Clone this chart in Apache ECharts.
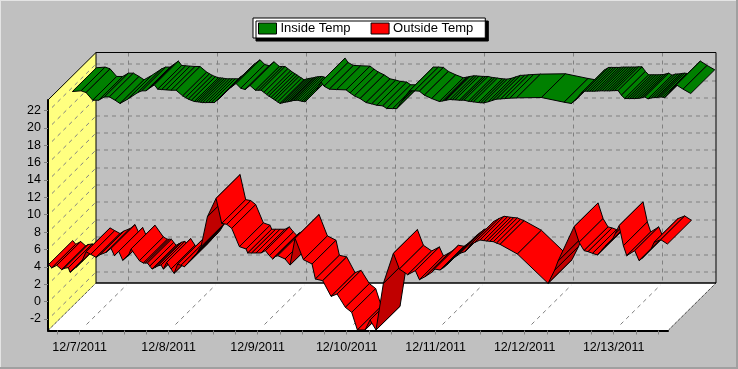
<!DOCTYPE html>
<html>
<head>
<meta charset="utf-8">
<style>html,body{margin:0;padding:0;background:#c0c0c0}#c{width:738px;height:369px}</style>
<script src="https://cdn.jsdelivr.net/npm/echarts@6/dist/echarts.min.js"></script>
</head>
<body>
<div id="c"></div>
<script>
// Hours since midnight of 12/7/2011
const dateLabels = ["12/7/2011","12/8/2011","12/9/2011","12/10/2011","12/11/2011","12/12/2011","12/13/2011"];
const dateTickHours = [0,24,48,72,96,120,144];
const minorTickHours = [-6,0,6,12,18,24,30,36,42,48,54,60,66,72,78,84,90,96,102,108,114,120,126,132,138,144,150,156];
const tempTicks = [-2,0,2,4,6,8,10,12,14,16,18,20,22];

const outsideHours = [-8.36,-7.55,-6.20,-4.85,-4.22,-3.06,-2.61,-0.99,0.54,1.71,2.97,4.40,5.48,7.10,8.45,9.35,10.52,11.60,13.12,13.84,16.09,17.17,17.7,18.25,18.9,19.51,20.3,21.03,21.93,22.56,23.46,24.63,25.44,26.43,27.3,28.23,29.2,30.20,30.9,31.55,32.1,32.72,34.43,36.77,38.29,39.64,40.99,43.06,44.86,45.31,46.38,47.55,48.90,50.07,51.15,52.05,52.68,53.40,55.37,56.72,58.07,60.32,62.65,63.55,65.53,67.78,69.40,71.64,73.35,74.88,76.95,78.29,79.91,81.89,84.59,86.21,88.45,90.52,91.60,93.13,94.93,95.64,97.17,98.1,98.97,99.9,100.77,101.7,102.57,103.91,104.6,105.26,106.61,107.96,108.9,109.76,110.6,111.55,112.4,113.35,118.03,126.30,128.10,128.99,133.31,134.66,136.00,137.08,138.3,139.60,140.6,141.58,142.6,143.56,144.5,145.44,146.61,147.51,149.67,150.84,151.64,154.16,154.88,156.68,158.48];
const outsideTemp = [4.28,3.86,4.17,3.67,3.82,3.90,3.36,3.94,4.59,5.74,5.43,5.09,5.39,5.66,6.12,5.28,5.78,4.74,5.28,6.05,4.70,4.43,4.43,4.43,4.08,3.74,3.92,4.09,4.20,3.74,4.51,3.74,3.24,4.32,4.17,4.01,4.45,4.90,5.22,5.55,5.93,6.32,9.77,11.88,9.00,8.89,8.43,6.32,6.05,5.59,5.59,5.59,5.59,5.86,5.28,4.90,5.16,5.28,4.90,4.20,7.28,4.82,4.32,2.59,2.40,0.59,0.86,-0.67,-1.25,-3.28,-3.28,-2.13,-3.28,2.09,5.55,3.74,3.09,3.55,2.51,2.86,3.36,3.74,3.63,3.9,4.20,4.6,4.97,5.26,5.55,5.74,6.1,6.51,6.82,7.08,7.02,6.97,6.93,6.89,6.73,6.58,5.47,2.09,3.63,4.66,8.62,6.82,5.86,5.74,5.55,5.36,5.84,6.32,6.7,7.08,7.9,8.74,6.43,5.28,5.86,4.70,4.97,6.12,6.82,7.12,6.62];

const insideHours = [-8.45,-6.11,-4.76,-2.97,-1.35,0.18,1.53,3.06,4.40,6.47,9.17,10.25,11.42,12.49,13.66,14.56,15.64,16.81,18.16,19.51,21.30,22.07,22.83,23.64,24.45,25.0,25.53,26.1,26.70,27.5,28.23,29.0,29.84,30.6,31.37,32.1,32.81,34.25,35.69,36.95,38.11,39.46,40.90,41.7,42.43,43.2,43.96,44.5,45.13,45.7,46.20,46.9,47.55,48.2,48.90,49.5,50.07,50.6,51.15,51.7,52.32,52.9,53.40,53.85,54.29,57.44,58.61,59.42,60.86,62.83,65.35,66.43,67.60,69.13,70.74,72.27,73.62,75.24,76.32,77.94,79.01,80.36,81.53,82.43,83.78,85.13,86.47,88.45,90.52,91.42,91.9,92.32,93.40,94.05,94.74,95.92,96.5,97.17,98.34,99.0,99.69,101.04,101.7,102.39,103.64,104.72,105.89,107.06,108.14,109.49,111.30,118.03,124.14,126.12,127.19,128.63,129.71,130.4,131.06,131.7,132.41,133.1,133.76,134.4,135.11,135.8,136.46,137.1,137.80,138.70,139.60,140.50,141.2,141.85,142.5,143.20,143.9,144.54,145.2,145.89,146.79,147.69,148.4,149.04,149.6,150.21,150.75,151.29,152.63,154.43,156.23,158.30];
const insideTemp = [21.45,21.53,21.33,20.45,20.45,20.83,20.83,20.45,20.07,20.57,21.33,21.53,21.53,21.87,22.22,21.72,21.68,21.64,21.60,21.60,20.95,20.76,20.57,20.43,20.30,20.28,20.26,20.22,20.18,20.18,20.18,20.18,20.18,20.45,20.72,21.03,21.33,21.91,22.37,21.83,21.68,22.14,21.60,21.6,21.60,21.35,21.10,20.93,20.76,20.6,20.45,20.26,20.07,20.15,20.22,20.26,20.30,20.36,20.41,20.43,20.45,20.39,20.33,20.3,20.26,21.60,22.56,22.06,21.72,21.68,21.64,21.29,20.95,20.64,20.18,20.03,19.87,19.80,19.49,19.49,19.49,20.33,21.03,21.53,21.53,21.49,21.03,20.64,20.30,20.37,20.41,20.45,20.53,20.51,20.49,20.45,20.45,20.45,20.33,20.3,20.26,20.18,20.16,20.14,20.26,20.41,20.57,20.60,20.64,20.68,20.72,20.76,20.22,20.07,20.45,21.22,21.49,21.49,21.49,21.49,21.49,21.51,21.53,21.53,21.53,21.53,21.53,21.54,21.56,21.56,21.03,20.64,20.64,20.64,20.64,20.64,20.66,20.68,20.75,20.83,20.60,20.72,20.74,20.76,20.8,20.83,20.8,20.76,21.41,22.22,21.72,21.22];

const xMin = -8.55, xMax = 158.64, yMin = -3.34, yMax = 23.21;
const depthX = 48, depthY = 47.5;

function segments(hours, temps) {
  const out = [];
  for (let i = 0; i < hours.length - 1; i++) out.push([hours[i], temps[i], hours[i+1], temps[i+1]]);
  return out;
}
function ribbon(fill, dark, z0, z1) {
  return function (params, api) {
    const a = api.coord([api.value(0), api.value(1)]);
    const b = api.coord([api.value(2), api.value(3)]);
    const ax = a[0] + depthX*z0, ay = a[1] - depthY*z0;
    const bx = b[0] + depthX*z0, by = b[1] - depthY*z0;
    const dx = depthX*(z1-z0), dy = depthY*(z1-z0);
    const cross = (bx-ax)*(-dy) - (by-ay)*dx;
    return {
      type: 'polygon',
      shape: { points: [[ax,ay],[bx,by],[bx+dx,by-dy],[ax+dx,ay-dy]] },
      style: { fill: cross > 0 ? dark : fill, stroke: '#000', lineWidth: 1, lineJoin: 'bevel' }
    };
  };
}
function walls(params, api) {
  const p0 = api.coord([xMin, yMin]), p1 = api.coord([xMax, yMax]);
  const L = p0[0], B = p0[1], R = p1[0], T = p1[1];
  const dash = { stroke: '#808080', lineWidth: 1, lineDash: [4,4], fill: null };
  const solid = w => ({ stroke: '#000', lineWidth: w, fill: null });
  const dotted = { stroke: '#000', lineWidth: 1, lineDash: [1,1], fill: null };
  const line = (x1,y1,x2,y2,style) => ({ type:'line', shape:{x1,y1,x2,y2}, style });
  const kids = [
    { type:'polygon', shape:{points:[[L,T],[L+depthX,T-depthY],[L+depthX,B-depthY],[L,B]]}, style:{fill:'#FFFF80'} },
    { type:'polygon', shape:{points:[[L,B],[R,B],[R+depthX,B-depthY],[L+depthX,B-depthY]]}, style:{fill:'#FFFFFF'} }
  ];
  tempTicks.forEach(v => {
    const y = Math.round(api.coord([xMin, v])[1]) + 0.5;
    kids.push(line(L+depthX, y-depthY, R+depthX, y-depthY, dash));
    kids.push(line(L+4, y-4, L+depthX, y-depthY, dash));
  });
  dateTickHours.forEach(v => {
    const x = Math.round(api.coord([v, yMin])[0]) + 0.5;
    kids.push(line(x+depthX, T-depthY, x+depthX, B-depthY, dash));
    kids.push(line(x+6, B-6, x+depthX-2, B-depthY+2, dash));
  });
  kids.push(line(L, T, L+depthX, T-depthY, solid(1)));
  kids.push(line(L+depthX, T-depthY, R+depthX, T-depthY, solid(1)));
  kids.push(line(L+depthX, T-depthY, L+depthX, B-depthY, solid(1)));
  kids.push(line(R+depthX, T-depthY, R+depthX, B-depthY, solid(1)));
  kids.push(line(L+depthX, B-depthY, R+depthX, B-depthY, solid(1.5)));
  kids.push(line(L, B, L+depthX, B-depthY, dotted));
  kids.push(line(R, B, R+depthX, B-depthY, dotted));
  return { type:'group', children:kids };
}

const chart = echarts.init(document.getElementById('c'), null, { renderer:'canvas', width:738, height:369 });
const font = '"Liberation Sans", Arial, sans-serif';
chart.setOption({
  animation: false,
  backgroundColor: '#C0C0C0',
  grid: { left:48, right:70, top:100, bottom:38.5, containLabel:false },
  legend: {
    data: [{name:'Inside Temp',icon:'rect'},{name:'Outside Temp',icon:'rect'}],
    left: 253, top: 18, orient:'horizontal',
    padding: [4,12,3,5], itemWidth:18, itemHeight:11, itemGap:20,
    backgroundColor:'#fff', borderColor:'#000', borderWidth:1,
    shadowColor:'#000', shadowOffsetX:3, shadowOffsetY:3, shadowBlur:0,
    textStyle:{ fontFamily:font, fontSize:13, color:'#000', padding:[0,0,0,-1] },
    itemStyle:{ borderColor:'#000', borderWidth:1 },
    selectedMode:false
  },
  xAxis: {
    type:'value', min:xMin, max:xMax, splitLine:{show:false},
    axisLine:{ onZero:false, lineStyle:{color:'#000', width:2} },
    axisTick:{ length:4, lineStyle:{color:'#808080'}, customValues:minorTickHours },
    axisLabel:{ customValues:dateTickHours, margin:11, fontFamily:font, fontSize:12.5, color:'#000',
      formatter: v => dateLabels[dateTickHours.indexOf(v)] || '' }
  },
  yAxis: {
    type:'value', min:yMin, max:yMax, splitLine:{show:false},
    axisLine:{ onZero:false, lineStyle:{color:'#000', width:2} },
    axisTick:{ length:4, lineStyle:{color:'#808080'}, customValues:tempTicks },
    axisLabel:{ customValues:tempTicks, margin:7, fontFamily:font, fontSize:12.5, color:'#000' }
  },
  graphic: [
    { type:'rect', silent:true, z:100, shape:{x:0,y:0,width:738,height:1}, style:{fill:'#e4e4e4'} },
    { type:'rect', silent:true, z:100, shape:{x:0,y:0,width:1,height:369}, style:{fill:'#e4e4e4'} },
    { type:'rect', silent:true, z:100, shape:{x:0,y:367,width:738,height:2}, style:{fill:'#a0a0a0'} },
    { type:'rect', silent:true, z:100, shape:{x:736,y:0,width:2,height:369}, style:{fill:'#a0a0a0'} }
  ],
  series: [
    { type:'custom', name:'walls', silent:true, z:0, renderItem:walls, clip:false,
      data:[[xMin,yMin,xMax,yMax]], encode:{x:[0,2],y:[1,3]} },
    { type:'custom', name:'Inside Temp', silent:true, z:2, clip:false, progressive:0,
      renderItem:ribbon('#008000','#006000',0.5,1), itemStyle:{color:'#008000'},
      data:segments(insideHours,insideTemp), encode:{x:[0,2],y:[1,3]} },
    { type:'custom', name:'Outside Temp', silent:true, z:3, clip:false, progressive:0,
      renderItem:ribbon('#FF0000','#C00000',0,0.5), itemStyle:{color:'#FF0000'},
      data:segments(outsideHours,outsideTemp), encode:{x:[0,2],y:[1,3]} }
  ]
});
</script>
</body>
</html>
